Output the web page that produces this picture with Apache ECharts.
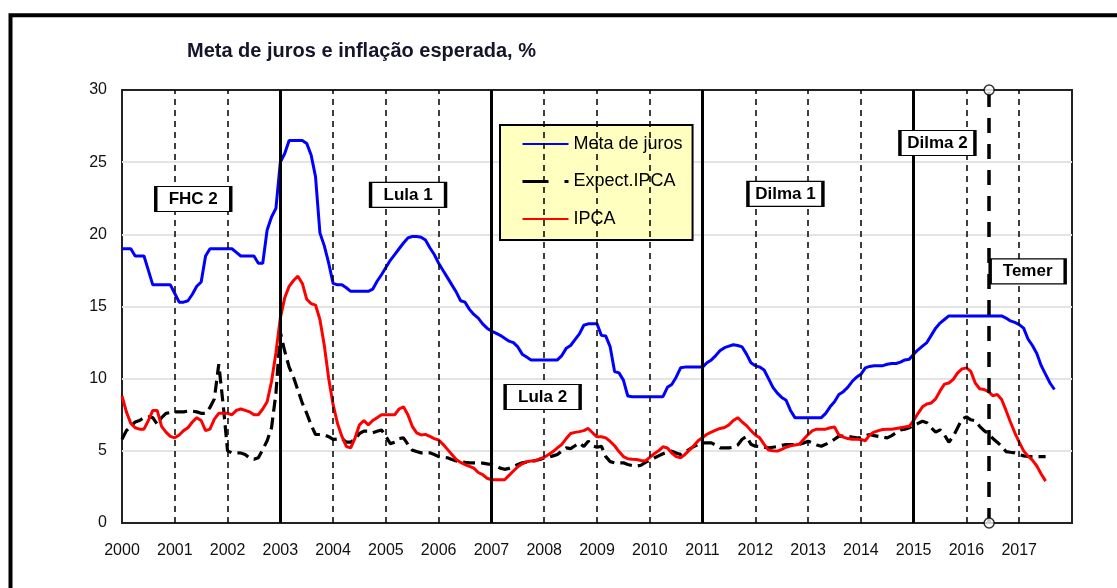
<!DOCTYPE html>
<html>
<head>
<meta charset="utf-8">
<script src="https://cdn.jsdelivr.net/npm/echarts@6/dist/echarts.min.js"></script>
<style>
html,body{margin:0;padding:0;background:#fff;}
#chart{width:1117px;height:588px;}
</style>
</head>
<body>
<div id="chart"></div>
<script>
// ---------- DATA (monthly, starting January 2000) ----------
const START_YEAR = 2000;

const metaJuros = [
  19, 19, 19, 18.5, 18.5, 18.5, 17.5, 16.5, 16.5, 16.5, 16.5, 16.5,
  15.9, 15.3, 15.3, 15.4, 15.85, 16.4, 16.7, 18.5, 19, 19, 19, 19,
  19, 19, 18.75, 18.5, 18.5, 18.5, 18.5, 18.0, 18.0, 20.3, 21.2, 21.8,
  25.0, 25.6, 26.5, 26.5, 26.5, 26.5, 26.3, 25.5, 24.0, 20.1, 19.2, 18.0,
  16.6, 16.5, 16.5, 16.3, 16.05, 16.05, 16.05, 16.05, 16.05, 16.2, 16.75, 17.2,
  17.7, 18.2, 18.6, 19.0, 19.4, 19.75, 19.85, 19.85, 19.8, 19.6, 19.07, 18.6,
  18.0, 17.5, 17.0, 16.5, 16.0, 15.4, 15.3, 14.8, 14.45, 14.2, 13.8, 13.5,
  13.3, 13.15, 13.0, 12.8, 12.6, 12.5, 12.2, 11.7, 11.5, 11.3, 11.3, 11.3,
  11.3, 11.3, 11.3, 11.3, 11.6, 12.1, 12.3, 12.7, 13.1, 13.7, 13.8, 13.8,
  13.8, 13.0, 12.95, 12.2, 10.5, 10.4, 9.9, 8.8, 8.75, 8.75, 8.75, 8.75,
  8.75, 8.75, 8.75, 8.75, 9.4, 9.6, 10.1, 10.75, 10.8, 10.8, 10.8, 10.8,
  10.8, 11.1, 11.3, 11.6, 11.95, 12.15, 12.25, 12.35, 12.3, 12.2, 11.7, 11.1,
  10.9, 10.8, 10.6, 10.0, 9.4, 9.0, 8.7, 8.5, 7.8, 7.3, 7.3, 7.3,
  7.3, 7.3, 7.3, 7.3, 7.6, 8.05, 8.4, 8.9, 9.1, 9.4, 9.8, 10.1,
  10.3, 10.75, 10.85, 10.9, 10.9, 10.9, 11.0, 11.05, 11.05, 11.15, 11.3, 11.35,
  11.7, 12.0, 12.25, 12.5, 13.0, 13.5, 13.85, 14.1, 14.35, 14.35, 14.35, 14.35,
  14.35, 14.35, 14.35, 14.35, 14.35, 14.35, 14.35, 14.35, 14.35, 14.2, 14.0, 13.9,
  13.75, 13.5, 12.75, 12.3, 11.75, 10.9, 10.3, 9.7, 9.25
];

const expectIPCA = [
  5.8, 6.4, 6.7, 7.0, 7.1, 7.3, 7.35, 7.3, 6.85, 7.3, 7.6, 7.65,
  7.7, 7.7, 7.7, 7.75, 7.75, 7.7, 7.6, 7.6, 8.0, 8.6, 11.0, 8.2,
  5.0, 4.86, 4.86, 4.85, 4.75, 4.5, 4.42, 4.52, 5.09, 5.7, 6.6, 9.0,
  13.2, 11.9, 10.8, 10.1, 9.2, 8.3, 7.6, 6.8, 6.13, 6.13, 6.1, 5.98,
  5.79, 5.82, 5.85, 5.6, 5.6, 5.8, 6.2, 6.36, 6.36, 6.25, 6.35, 6.45,
  6.0, 5.5, 5.6, 5.85, 5.9, 5.45, 5.05, 4.95, 4.86, 4.86, 4.86, 4.75,
  4.6, 4.55, 4.52, 4.4, 4.3, 4.25, 4.2, 4.17, 4.17, 4.17, 4.15, 4.1,
  4.05, 3.95, 3.8, 3.72, 3.78, 3.9, 4.05, 4.17, 4.22, 4.28, 4.33, 4.4,
  4.5, 4.55, 4.65, 4.75, 5.0, 5.2, 5.15, 5.35, 5.55, 5.3, 5.67, 5.35,
  5.25, 5.32, 4.6, 4.25, 4.17, 4.17, 4.17, 4.05, 3.98, 3.94, 4.0, 4.2,
  4.35, 4.5, 4.65, 4.8, 4.9, 4.98, 4.85, 4.75, 4.9, 5.1, 5.3, 5.45,
  5.55, 5.55, 5.55, 5.4, 5.2, 5.2, 5.2, 5.25, 5.4, 5.8, 6.0, 5.45,
  5.32, 5.3, 5.25, 5.2, 5.25, 5.3, 5.38, 5.44, 5.44, 5.44, 5.45, 5.55,
  5.67, 5.55, 5.4, 5.32, 5.45, 5.6, 5.8, 6.02, 6.02, 6.02, 5.95, 5.9,
  5.9, 6.05, 6.13, 6.05, 6.0, 5.95, 5.9, 6.05, 6.25, 6.45, 6.5, 6.6,
  6.75, 6.9, 7.05, 6.95, 6.6, 6.3, 6.45, 6.1, 5.6, 6.0, 6.6, 7.2,
  7.35, 7.15, 7.08, 6.7, 6.4, 6.2, 5.85, 5.6, 5.3, 4.95, 4.9, 4.86,
  4.75, 4.65, 4.62, 4.6, 4.6, 4.6, 4.6
];

const ipca = [
  8.8, 7.7, 6.9, 6.6, 6.5, 6.5, 7.1, 7.8, 7.8, 6.7, 6.3, 6.0,
  5.9, 6.1, 6.4, 6.6, 7.0, 7.3, 7.1, 6.4, 6.5, 7.2, 7.6, 7.6,
  7.6, 7.5, 7.8, 7.9, 7.8, 7.7, 7.5, 7.5, 7.9, 8.4, 9.8, 11.8,
  14.2, 15.6, 16.4, 16.8, 17.1, 16.6, 15.5, 15.2, 15.1, 14.1, 12.3, 10.0,
  8.2, 6.9, 6.0, 5.3, 5.2, 5.9, 6.8, 7.1, 6.8, 7.1, 7.3, 7.5,
  7.5, 7.5, 7.5, 7.9, 8.05, 7.5, 6.7, 6.25, 6.1, 6.14, 6.0, 5.85,
  5.75, 5.45, 5.1, 4.75, 4.4, 4.2, 4.05, 3.93, 3.8, 3.5, 3.35, 3.1,
  3.0, 3.0, 3.0, 3.0, 3.3, 3.6, 3.9, 4.1, 4.25, 4.3, 4.3, 4.45,
  4.55, 4.75, 4.95, 5.2, 5.45, 5.85, 6.2, 6.28, 6.33, 6.4, 6.55, 6.25,
  5.97, 5.97, 5.9, 5.65, 5.35, 4.95, 4.6, 4.45, 4.42, 4.4, 4.33, 4.3,
  4.55, 4.8, 5.0, 5.28, 5.2, 4.85, 4.6, 4.52, 4.75, 5.05, 5.35, 5.7,
  5.92, 6.15, 6.3, 6.43, 6.55, 6.62, 6.8, 7.1, 7.3, 7.0, 6.75, 6.4,
  6.1, 5.9, 5.45, 5.05, 5.0, 4.98, 5.1, 5.25, 5.35, 5.4, 5.45, 5.8,
  6.13, 6.4, 6.5, 6.5, 6.5, 6.6, 6.65, 6.1, 5.95, 5.85, 5.8, 5.8,
  5.78, 5.7, 6.1, 6.3, 6.4, 6.48, 6.5, 6.5, 6.55, 6.6, 6.65, 6.7,
  7.1, 7.6, 8.05, 8.25, 8.32, 8.6, 9.15, 9.62, 9.7, 9.95, 10.4, 10.68,
  10.75, 10.5, 9.7, 9.3, 9.25, 9.1, 8.82, 8.9, 8.56, 7.8, 7.0, 6.25,
  5.6, 5.0, 4.63, 4.35, 3.95, 3.4, 2.9
];

const seriesNames = ['Meta de juros', 'Expect.IPCA', 'IPCA'];
const axisYears = [2000, 2018];
const dashedYears = [2001, 2002, 2004, 2005, 2006, 2008, 2009, 2010, 2012, 2013, 2014, 2016, 2017];
const termStartYears = [2003, 2007, 2011, 2015];
const temerStart = 2016.43;
const yRange = [0, 30];
const yStep = 5;

const periodNames = ['FHC 2', 'Lula 1', 'Lula 2', 'Dilma 1', 'Dilma 2', 'Temer'];
// annotation anchors (data coordinates: year, %)
const periodAnchorX = [2001.35, 2005.42, 2007.97, 2012.57, 2015.45, 2017.16];
const periodAnchorY = [22.45, 22.73, 8.73, 22.8, 26.33, 17.43];

// ---------- CHART ----------
const FONT = "'Liberation Sans', Arial, sans-serif";
const toPairs = arr => arr.map((v, i) => [START_YEAR + i / 12, v]);

const chart = echarts.init(document.getElementById('chart'), null, { renderer: 'canvas' });

const option = {
  animation: false,
  backgroundColor: '#ffffff',
  title: {
    text: 'Meta de juros e inflação esperada, %',
    left: 187,
    top: 41,
    padding: 0,
    textStyle: { fontFamily: FONT, fontSize: 20, fontWeight: 'bold', color: '#14142a' }
  },
  legend: {
    orient: 'vertical',
    left: 500,
    top: 125,
    padding: [10, 10, 12, 21],
    itemGap: 19.5,
    itemWidth: 46,
    itemHeight: 14,
    backgroundColor: '#ffffc0',
    borderColor: '#000',
    borderWidth: 2,
    borderRadius: 0,
    selectedMode: false,
    itemStyle: { opacity: 0 },
    textStyle: { fontFamily: FONT, fontSize: 18, color: '#000' },
    data: [
      { name: seriesNames[0] },
      { name: seriesNames[1], lineStyle: { type: [26, 16], width: 3, color: '#000' } },
      { name: seriesNames[2] }
    ]
  },
  grid: {
    left: 122, top: 90, width: 950, height: 433,
    show: true, borderColor: '#222', borderWidth: 2, backgroundColor: 'transparent'
  },
  xAxis: {
    type: 'value',
    min: axisYears[0], max: axisYears[1], interval: 1,
    axisLine: { show: false },
    axisTick: { show: false },
    splitLine: { show: false },
    axisLabel: {
      margin: 20,
      fontFamily: FONT, fontSize: 16, color: '#111',
      formatter: v => (v >= axisYears[1] ? '' : String(v))
    }
  },
  yAxis: {
    type: 'value',
    min: yRange[0], max: yRange[1], interval: yStep,
    axisLine: { show: false },
    axisTick: { show: false },
    splitLine: { show: true, showMinLine: false, showMaxLine: false, lineStyle: { color: '#e4e4e4', width: 2 } },
    axisLabel: { margin: 15, fontFamily: FONT, fontSize: 16, color: '#111' }
  },
  series: [
    {
      name: 'yearLines', type: 'line', data: [], silent: true, z: 1,
      markLine: {
        silent: true, symbol: ['none', 'none'], label: { show: false }, animation: false,
        data: [
          ...dashedYears.map(y => ({ xAxis: y, lineStyle: { type: [6, 5], width: 1.5, color: '#000' } })),
          ...termStartYears.map(y => ({ xAxis: y, lineStyle: { type: 'solid', width: 3, color: '#000' } }))
        ]
      }
    },
    {
      name: seriesNames[0], type: 'line', data: toPairs(metaJuros), symbol: 'none', z: 3,
      lineStyle: { color: '#0000ff', width: 3 }, itemStyle: { color: '#0000ff' }
    },
    {
      name: seriesNames[1], type: 'line', data: toPairs(expectIPCA), symbol: 'none', z: 3,
      lineStyle: { color: '#000', width: 3.2, type: [12, 6] }, itemStyle: { color: '#000' }
    },
    {
      name: seriesNames[2], type: 'line', data: toPairs(ipca), symbol: 'none', z: 3,
      lineStyle: { color: '#ff0000', width: 3 }, itemStyle: { color: '#ff0000' }
    },
    {
      name: 'temerLine', type: 'line', data: [], silent: true, z: 5,
      markLine: {
        silent: true, symbol: ['none', 'none'], label: { show: false }, animation: false,
        data: [{ xAxis: temerStart, lineStyle: { type: [15, 11], width: 3.5, color: '#000' } }]
      }
    },
    {
      name: 'temerEnds', type: 'scatter', silent: true, z: 6, clip: false,
      data: [[temerStart, yRange[0]], [temerStart, yRange[1]]],
      symbol: 'circle', symbolSize: 10,
      itemStyle: { color: '#fff', borderColor: '#000', borderWidth: 1.5 }
    },
    {
      name: 'periods', type: 'scatter', silent: true, z: 8, clip: false,
      symbol: 'rect', symbolSize: [75, 25],
      itemStyle: { color: '#ffffff', borderColor: '#000000', borderWidth: 2, opacity: 1 },
      data: periodNames.map((n, i) => ({ name: n, value: [periodAnchorX[i], periodAnchorY[i]] })),
      label: {
        show: true, position: 'inside', formatter: p => p.name,
        fontFamily: FONT, fontSize: 17, fontWeight: 'bold', color: '#000',
        textBorderWidth: 0, textBorderColor: 'transparent',
        align: 'center', verticalAlign: 'middle'
      },
      labelLayout: { hideOverlap: false }
    }
  ],
  graphic: [
    {
      type: 'rect', silent: true, z: 100,
      shape: { x: 10.5, y: 15.3, width: 1300, height: 800 },
      style: { fill: 'none', stroke: '#000', lineWidth: 4 }
    }
  ]
};

chart.setOption(option);
</script>
</body>
</html>
